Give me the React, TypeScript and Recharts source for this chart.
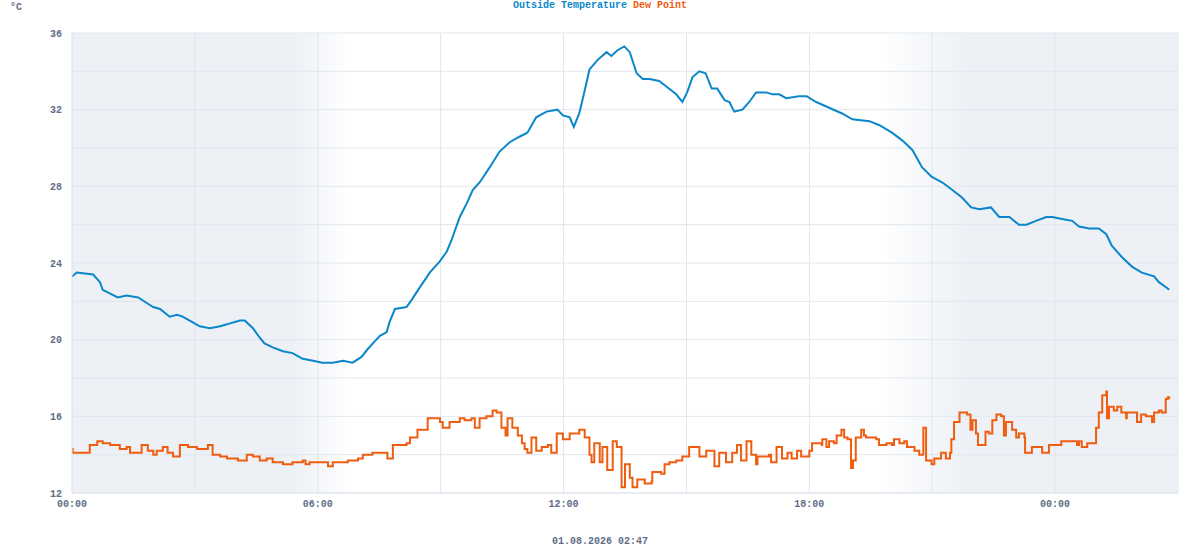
import { CartesianGrid, Line, LineChart, XAxis, YAxis } from "recharts";

// minutes since 00:00 of the first day
const tempTimes = [
	0, 7, 31, 41, 45, 67, 80, 97, 110, 119, 129, 143, 154, 162, 177, 187, 202, 217, 227, 236,
	246, 253, 265, 275, 282, 294, 309, 323, 338, 353, 367, 382, 397, 411, 424, 433, 443, 451,
	461, 465, 473, 490, 498, 509, 524, 539, 549, 556, 568, 578, 587, 597, 612, 626, 641, 656,
	667, 680, 695, 711, 719, 729, 735, 743, 751, 758, 770, 783, 790, 799, 809, 817, 827, 836,
	846, 860, 871, 885, 894, 901, 909, 919, 928, 937, 945, 956, 963, 970, 982, 992, 1002, 1017,
	1026, 1036, 1046, 1065, 1076, 1090, 1109, 1128, 1143, 1168, 1182, 1201, 1216, 1231, 1245,
	1259, 1275, 1290, 1304, 1317, 1329, 1346, 1358, 1373, 1387, 1398, 1412, 1427, 1436, 1450,
	1465, 1475, 1490, 1504, 1515, 1523, 1538, 1553, 1567, 1585, 1592, 1604, 1607,
];
const tempValues = [
	23.3, 23.5, 23.4, 23.0, 22.6, 22.2, 22.3, 22.2, 21.9, 21.7, 21.6, 21.2, 21.3, 21.2, 20.9,
	20.7, 20.6, 20.7, 20.8, 20.9, 21.0, 21.0, 20.6, 20.1, 19.8, 19.6, 19.4, 19.3, 19.0, 18.9,
	18.8, 18.8, 18.9, 18.8, 19.1, 19.5, 19.9, 20.2, 20.4, 20.9, 21.6, 21.7, 22.1, 22.7, 23.5,
	24.1, 24.6, 25.2, 26.4, 27.1, 27.8, 28.2, 29.0, 29.8, 30.3, 30.6, 30.8, 31.6, 31.9, 32.0,
	31.7, 31.6, 31.1, 31.8, 33.0, 34.1, 34.6, 35.0, 34.8, 35.1, 35.3, 35.0, 33.9, 33.6, 33.6,
	33.5, 33.2, 32.8, 32.4, 32.9, 33.7, 34.0, 33.9, 33.1, 33.1, 32.5, 32.4, 31.9, 32.0, 32.4,
	32.9, 32.9, 32.8, 32.8, 32.6, 32.7, 32.7, 32.4, 32.1, 31.8, 31.5, 31.4, 31.2, 30.8, 30.4,
	29.9, 29.0, 28.5, 28.2, 27.8, 27.4, 26.9, 26.8, 26.9, 26.4, 26.4, 26.0, 26.0, 26.2, 26.4,
	26.4, 26.3, 26.2, 25.9, 25.8, 25.8, 25.5, 24.9, 24.3, 23.8, 23.5, 23.3, 23.0, 22.7, 22.6,
];

const dewTimes = [
	0, 1, 22, 26, 37, 45, 56, 70, 80, 85, 95, 102, 111, 119, 124, 133, 140, 148, 158, 170, 183,
	192, 199, 206, 217, 227, 236, 243, 256, 265, 275, 285, 294, 309, 319, 323, 338, 342, 348,
	363, 375, 382, 392, 404, 419, 426, 440, 454, 462, 470, 490, 495, 506, 521, 534, 539, 543,
	553, 568, 575, 585, 590, 597, 607, 616, 622, 629, 635, 638, 645, 653, 659, 663, 667, 673,
	680, 688, 697, 702, 710, 719, 729, 743, 751, 758, 761, 765, 773, 777, 784, 792, 798, 803,
	805, 810, 817, 821, 828, 839, 849, 850, 863, 868, 875, 885, 894, 904, 915, 919, 929, 941,
	948, 958, 967, 974, 980, 988, 995, 1002, 1004, 1021, 1024, 1032, 1040, 1048, 1054, 1062,
	1068, 1080, 1084, 1098, 1099, 1105, 1109, 1116, 1120, 1127, 1131, 1136, 1141, 1144, 1148,
	1156, 1160, 1163, 1178, 1182, 1193, 1201, 1204, 1212, 1219, 1223, 1234, 1241, 1247, 1251,
	1259, 1263, 1270, 1273, 1280, 1286, 1288, 1292, 1300, 1305, 1311, 1316, 1319, 1324, 1327,
	1333, 1338, 1343, 1348, 1354, 1361, 1365, 1368, 1377, 1383, 1387, 1395, 1396, 1406, 1420,
	1421, 1431, 1446, 1449, 1465, 1472, 1475, 1479, 1487, 1499, 1500, 1504, 1509, 1515, 1516,
	1519, 1526, 1531, 1537, 1544, 1545, 1553, 1560, 1566, 1573, 1582, 1585, 1592, 1596, 1602,
	1605, 1607,
];
const dewValues = [
	14.3, 14.1, 14.1, 14.5, 14.7, 14.6, 14.5, 14.3, 14.4, 14.1, 14.1, 14.5, 14.2, 14.0, 14.2,
	14.4, 14.1, 13.9, 14.5, 14.4, 14.3, 14.3, 14.5, 14.0, 13.9, 13.8, 13.8, 13.7, 14.0, 13.9,
	13.7, 13.8, 13.6, 13.5, 13.5, 13.6, 13.7, 13.5, 13.6, 13.6, 13.4, 13.6, 13.6, 13.7, 13.8,
	14.0, 14.1, 14.1, 13.8, 14.5, 14.6, 14.9, 15.3, 15.9, 15.9, 15.7, 15.4, 15.7, 15.9, 15.8,
	15.9, 15.4, 15.9, 16.0, 16.3, 16.2, 15.4, 15.0, 15.9, 15.4, 15.0, 14.6, 14.3, 14.1, 14.9,
	14.2, 14.4, 14.5, 14.1, 15.1, 14.8, 15.1, 15.3, 14.9, 14.0, 13.6, 14.6, 13.6, 14.4, 13.2,
	14.7, 14.4, 14.4, 12.3, 13.5, 12.8, 12.3, 12.7, 12.5, 12.6, 13.1, 13.0, 13.5, 13.6, 13.7,
	13.9, 14.4, 14.4, 13.9, 14.2, 13.4, 14.1, 13.6, 14.1, 14.5, 13.7, 14.7, 14.0, 13.5, 13.9,
	14.0, 13.6, 14.4, 13.8, 14.1, 13.8, 14.2, 13.9, 14.2, 14.6, 14.5, 14.8, 14.4, 14.7, 14.6,
	15.0, 15.3, 14.9, 14.8, 13.3, 13.7, 14.9, 15.3, 15.0, 14.9, 14.8, 14.5, 14.6, 14.5, 14.8,
	14.6, 14.7, 14.4, 14.2, 14.0, 15.4, 13.7, 13.5, 13.8, 13.8, 14.1, 13.8, 14.1, 14.8, 15.7,
	16.2, 16.2, 16.1, 15.3, 15.8, 15.1, 14.5, 14.5, 15.2, 15.1, 15.8, 16.1, 16.0, 15.0, 15.7,
	15.3, 14.9, 15.1, 14.9, 14.1, 14.4, 14.4, 14.1, 14.5, 14.5, 14.7, 14.7, 14.5, 14.7, 14.4,
	14.6, 14.6, 15.4, 16.2, 17.1, 17.3, 15.9, 16.5, 16.3, 16.5, 16.2, 15.9, 16.2, 16.2, 15.7,
	16.1, 16.0, 15.7, 16.2, 16.3, 16.2, 16.9, 17.0, 16.9,
];

const hourTicks = [0, 180, 360, 540, 720, 900, 1080, 1260, 1440, 1620];
const degreeTicks = [12, 14, 16, 18, 20, 22, 24, 26, 28, 30, 32, 34, 36];
const seriesNames = ["Outside Temperature", "Dew Point"];
const unitLabel = "°C";
const stampLabel = "01.08.2026 02:47";

const tempData = tempTimes.map((t, i) => ({ t, v: tempValues[i] }));
const dewData = dewTimes.map((t, i) => ({ t, v: dewValues[i] }));

const BLUE = "#0a87c9";
const ORANGE = "#ee5d10";
const TEXT = "#5f6d87";
const GRID = "#e1e6ee";
const FONT = "'Liberation Mono', 'DejaVu Sans Mono', monospace";

const tickStyle = { fill: TEXT, fontSize: 10, fontWeight: 700, fontFamily: FONT };

function hourLabel(m: number) {
	if (m % 360 !== 0) return "";
	const h = Math.floor(m / 60) % 24;
	return `${String(h).padStart(2, "0")}:00`;
}

function degreeLabel(v: number) {
	return v % 4 === 0 ? String(v) : "";
}

export default function App() {
	return (
		<div style={{ position: "absolute", left: 0, top: 0, width: 1200, height: 550, background: "#fff" }}>
			<svg width={0} height={0} style={{ position: "absolute" }}>
				<defs>
					<linearGradient id="night" x1="0" y1="0" x2="1" y2="0">
						<stop offset="0" stopColor="#edf0f5" />
						<stop offset="0.2" stopColor="#edf0f5" />
						<stop offset="0.252" stopColor="#ffffff" />
						<stop offset="0.73" stopColor="#ffffff" />
						<stop offset="0.81" stopColor="#edf0f5" />
						<stop offset="1" stopColor="#edf0f5" />
					</linearGradient>
				</defs>
			</svg>
			<div
				style={{
					position: "absolute",
					left: 0,
					top: 0,
					width: 1200,
					textAlign: "center",
					fontFamily: FONT,
					fontSize: 10,
					fontWeight: 700,
					lineHeight: "12px",
				}}
			>
				<span style={{ color: BLUE }}>{seriesNames[0]}</span>{" "}
				<span style={{ color: ORANGE }}>{seriesNames[1]}</span>
			</div>
			<div
				style={{
					position: "absolute",
					left: 10,
					top: 2,
					fontFamily: FONT,
					fontSize: 10,
					fontWeight: 700,
					color: TEXT,
					lineHeight: "12px",
				}}
			>
				{unitLabel}
			</div>
			<LineChart width={1200} height={550} margin={{ top: 33, right: 22, bottom: 27, left: 0 }}>
				<CartesianGrid stroke={GRID} fill="url(#night)" fillOpacity={1} />
				<XAxis
					type="number"
					dataKey="t"
					domain={[0, 1620]}
					ticks={hourTicks}
					tickFormatter={hourLabel}
					tick={tickStyle}
					tickLine={false}
					axisLine={{ stroke: GRID }}
					height={30}
					tickMargin={1}
					allowDataOverflow
				/>
				<YAxis
					type="number"
					domain={[12, 36]}
					ticks={degreeTicks}
					tickFormatter={degreeLabel}
					tick={tickStyle}
					tickLine={false}
					axisLine={{ stroke: GRID }}
					width={72}
					tickMargin={4}
					interval={0}
					allowDataOverflow
				/>
				<Line
					data={tempData}
					dataKey="v"
					type="linear"
					stroke={BLUE}
					strokeWidth={2}
					dot={false}
					activeDot={false}
					isAnimationActive={false}
				/>
				<Line
					data={dewData}
					dataKey="v"
					type="stepAfter"
					stroke={ORANGE}
					strokeWidth={2}
					dot={false}
					activeDot={false}
					isAnimationActive={false}
				/>
			</LineChart>
			<div
				style={{
					position: "absolute",
					left: 0,
					top: 536,
					width: 1200,
					textAlign: "center",
					fontFamily: FONT,
					fontSize: 10,
					fontWeight: 700,
					color: TEXT,
					lineHeight: "12px",
				}}
			>
				{stampLabel}
			</div>
		</div>
	);
}
